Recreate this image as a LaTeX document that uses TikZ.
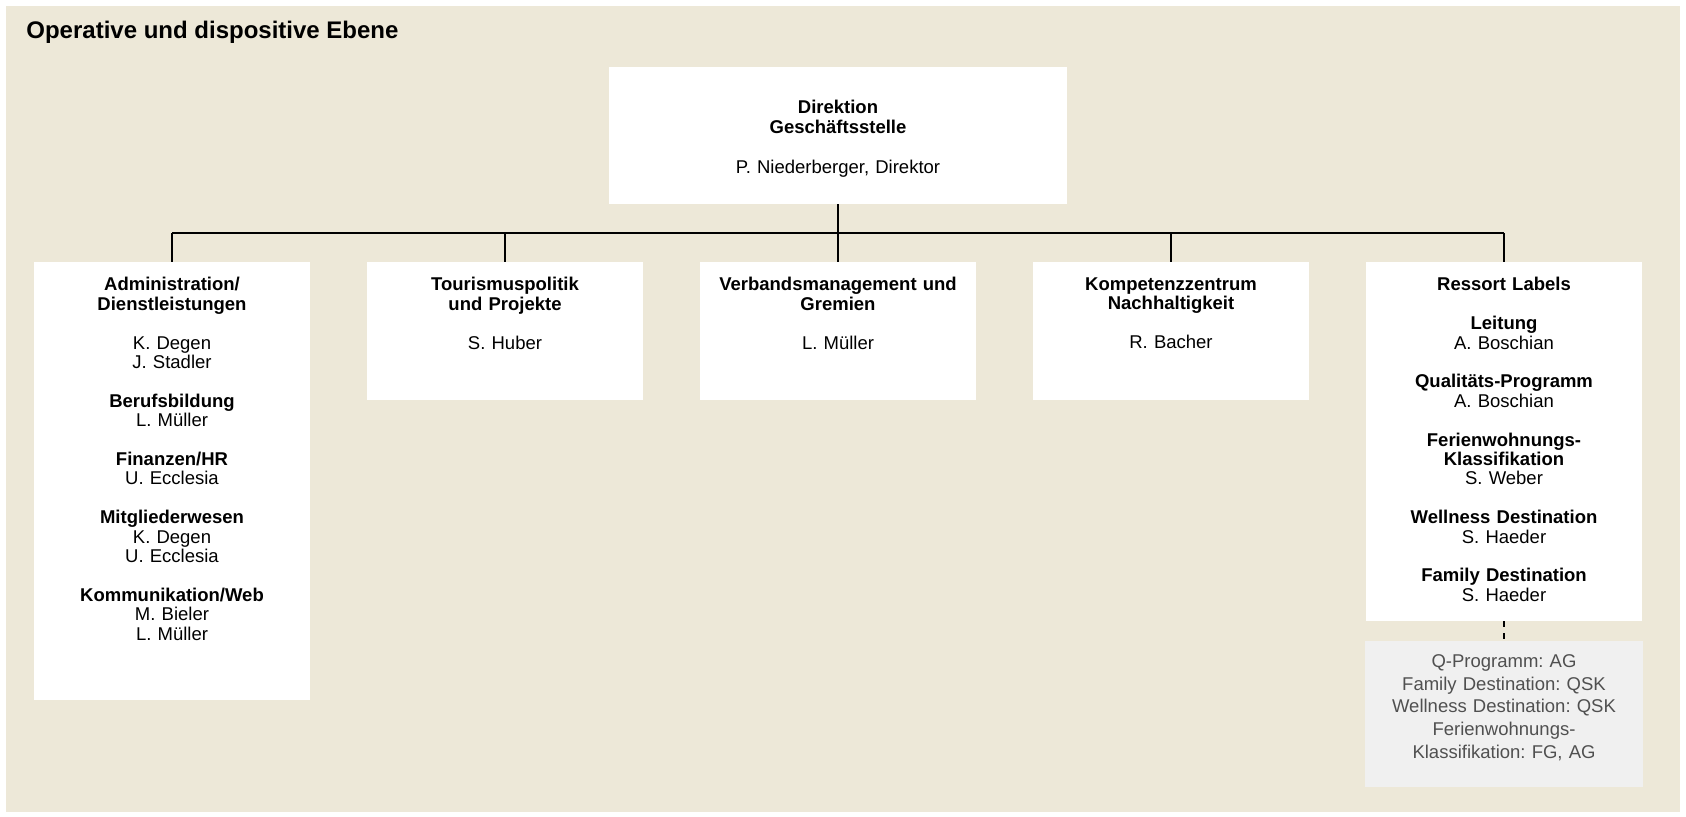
\documentclass[tikz,border=0pt]{standalone}
\usepackage{fontspec}
\setmainfont{Liberation Sans}
\usetikzlibrary{positioning}

\definecolor{ebenebg}{RGB}{237,232,216}
\definecolor{notebg}{RGB}{240,240,240}
\definecolor{notegray}{RGB}{80,80,80}

\newcommand{\blankrow}{\\[9.7pt]}
\frenchspacing

\tikzset{
  unitbox/.style={fill=white, inner sep=0pt, outer sep=0pt, minimum width=138pt},
  unittext/.style={text width=134pt, align=center, inner sep=0pt,
    font=\fontsize{9.25}{9.7}\selectfont},
  notebox/.style={fill=notebg, inner sep=0pt, outer sep=0pt, minimum width=139pt, minimum height=73pt},
  notetext/.style={text width=134pt, align=center, inner sep=0pt, text=notegray,
    font=\fontsize{9.25}{11.3}\selectfont},
  orgline/.style={line width=1.35pt},
  noteline/.style={line width=0.8pt, dash pattern=on 3pt off 3pt}
}

\begin{document}
\begin{tikzpicture}[x=0.5pt, y=-0.5pt, node distance=28.5pt]
    \useasboundingbox (0,0) rectangle (1686,816);
    \fill[ebenebg] (6,6) rectangle (1680,812);

    % Define nodes
    \node[anchor=base west, inner sep=0pt, font=\fontsize{12}{14}\selectfont\bfseries]
        (title) at (26,38.5) {Operative und dispositive Ebene};
    \node[unitbox, minimum width=229pt, minimum height=68.5pt, text width=225pt,
        align=center, font=\fontsize{9.25}{9.9}\selectfont]
        (dir) at (838,135.5) {\rule{0pt}{10pt}\textbf{Direktion}\\\textbf{Geschäftsstelle}\\[10pt] P. Niederberger, Direktor};

    \node[unitbox, anchor=north west, minimum height=219pt] (admin) at (34,262) {};
    \node[unitbox, right=of admin.north east, anchor=north west, minimum height=69pt] (tour) {};
    \node[unitbox, right=of tour.north east, anchor=north west, minimum height=69pt] (verband) {};
    \node[unitbox, right=of verband.north east, anchor=north west, minimum height=69pt] (kompetenz) {};
    \node[unitbox, right=of kompetenz.north east, anchor=north west, minimum height=179.5pt] (ressort) {};
    \node[notebox, below=10pt of ressort] (labels) {};

    % Texts
    \node[unittext, below=7.5pt of admin.north] (admin-t)
        {\textbf{Administration/}\\\textbf{Dienstleistungen}\blankrow
         K. Degen\\J. Stadler\blankrow
         \textbf{Berufsbildung}\\L. Müller\blankrow
         \textbf{Finanzen/HR}\\U. Ecclesia\blankrow
         \textbf{Mitgliederwesen}\\K. Degen\\U. Ecclesia\blankrow
         \textbf{Kommunikation/Web}\\M. Bieler\\L. Müller};
    \node[unittext, below=7.5pt of tour.north] (tour-t)
        {\textbf{Tourismuspolitik}\\\textbf{und Projekte}\blankrow S. Huber};
    \node[unittext, below=7.5pt of verband.north] (verband-t)
        {\textbf{Verbandsmanagement und}\\\textbf{Gremien}\blankrow L. Müller};
    \node[unittext, below=7.5pt of kompetenz.north] (kompetenz-t)
        {\textbf{Kompetenzzentrum}\\\textbf{Nachhaltigkeit}\blankrow R. Bacher};
    \node[unittext, below=7.5pt of ressort.north] (ressort-t)
        {\textbf{Ressort Labels}\blankrow
         \textbf{Leitung}\\A. Boschian\blankrow
         \textbf{Qualitäts-Programm}\\A. Boschian\blankrow
         \textbf{Ferienwohnungs-}\\\textbf{Klassifikation}\\S. Weber\blankrow
         \textbf{Wellness Destination}\\S. Haeder\blankrow
         \textbf{Family Destination}\\S. Haeder};
    \node[notetext, below=6.7pt of labels.north] (labels-t)
        {Q-Programm: AG\\Family Destination: QSK\\Wellness Destination: QSK\\Ferienwohnungs-\\Klassifikation: FG, AG};

    % Connect nodes
    \coordinate (bus) at (838,233);
    \draw[orgline] (dir.south) -- (bus);
    \draw[orgline] (admin.north |- bus) -- (ressort.north |- bus);
    \foreach \u in {admin,tour,verband,kompetenz,ressort}
        \draw[orgline] (\u.north |- bus) -- (\u.north);
    \draw[noteline] (ressort.south) -- (labels.north);
\end{tikzpicture}
\end{document}
